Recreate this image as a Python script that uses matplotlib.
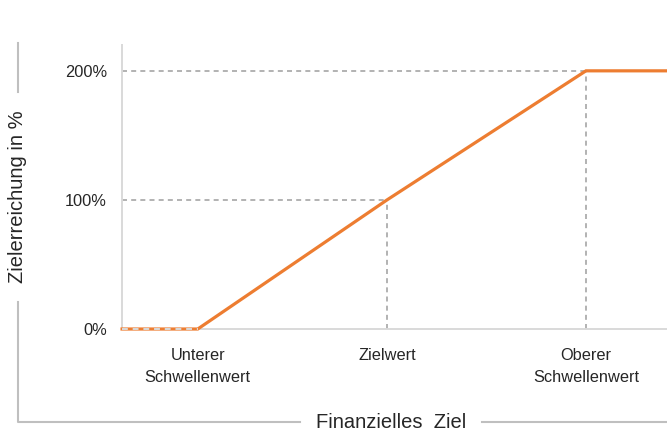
import matplotlib.pyplot as plt
from matplotlib.lines import Line2D

plt.rcParams['font.family'] = ['Liberation Sans', 'DejaVu Sans']

# x in % of financial target, y = Zielerreichung in %
cat_x = [80, 99.5, 120]
cat_labels = ["Unterer\nSchwellenwert", "Zielwert", "Oberer\nSchwellenwert"]
line_x = [72.2, 80, 99.5, 120, 129]
line_y = [0, 0, 100, 200, 200]
y_ticks = [0, 100, 200]
y_labels = ["0%", "100%", "200%"]

orange = "#ED7D31"
grid = "#A6A6A6"
axis_col = "#D9D9D9"
text_col = "#262626"
dash = (0, (3, 2.5))

fig = plt.figure(figsize=(6.67, 4.32), dpi=100)
ax = fig.add_axes([0.183, 0.2384, 0.817, 0.6574])
ax.set_xlim(72.2, 128.35)
ax.set_ylim(0, 220)

# helper lines
ax.plot([72.2, cat_x[1]], [100, 100], ls=dash, color=grid, lw=1.2, zorder=1)
ax.plot([72.2, cat_x[2]], [200, 200], ls=dash, color=grid, lw=1.2, zorder=1)
ax.plot([cat_x[1], cat_x[1]], [0, 100], ls=dash, color=grid, lw=1.2, zorder=1)
ax.plot([cat_x[2], cat_x[2]], [0, 200], ls=dash, color=grid, lw=1.2, zorder=1)

ax.plot(line_x, line_y, color=orange, lw=2.3, zorder=3, clip_on=False,
        solid_joinstyle='miter')
ax.plot([72.2, 80], [0, 0], ls=dash, color=axis_col, lw=1.4, zorder=4, clip_on=False)

for s in ['top', 'right']:
    ax.spines[s].set_visible(False)
for s in ['left', 'bottom']:
    ax.spines[s].set_color(axis_col)
    ax.spines[s].set_linewidth(1.4)

ax.set_xticks(cat_x)
ax.set_xticklabels(cat_labels, fontsize=11.8, color=text_col, linespacing=1.55)
ax.set_yticks(y_ticks)
ax.set_yticklabels(y_labels, fontsize=11.8, color=text_col)
ax.tick_params(axis='x', length=0, pad=14)
ax.tick_params(axis='y', length=0, pad=11)

# outer axis decoration
dec = "#BFBFBF"
fig.add_artist(Line2D([18/667, 18/667], [1 - 43/432, 1 - 92/432], color=dec, lw=1.5,
                      transform=fig.transFigure))
fig.add_artist(Line2D([18/667, 18/667, 300/667], [1 - 302/432, 1 - 422/432, 1 - 422/432],
                      color=dec, lw=1.5, transform=fig.transFigure))
fig.add_artist(Line2D([482/667, 1.0], [1 - 422/432, 1 - 422/432], color=dec, lw=1.5,
                      transform=fig.transFigure))
fig.text(18/667, 1 - 197/432, "Zielerreichung in %", rotation=90, ha='center', va='center',
         fontsize=14.5, color=text_col)
fig.text(391/667, 1 - 422/432, "Finanzielles  Ziel", ha='center', va='center',
         fontsize=14.5, color=text_col)

fig.savefig("out.png", dpi=100)
